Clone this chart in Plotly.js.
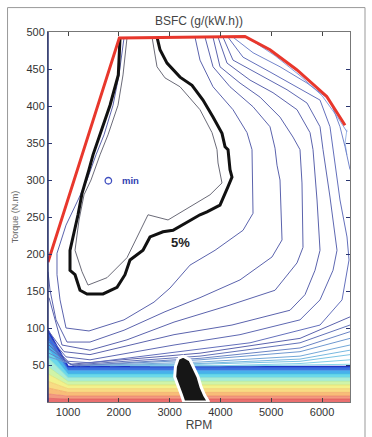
<!DOCTYPE html>
<html><head><meta charset="utf-8">
<script src="https://cdn.plot.ly/plotly-3.0.1.min.js"></script>
<style>html,body{margin:0;padding:0;background:#fff;}#chart{width:372px;height:437px;}</style>
</head><body><div id="chart"></div>
<script>
// ---- data (RPM, torque N.m) ----
const xTicks = [1000, 2000, 3000, 4000, 5000, 6000];
const yTicks = [50, 100, 150, 200, 250, 300, 350, 400, 450, 500];

const redRpm = [606, 2010, 4484, 4976, 5502, 6093, 6453];
const redTq  = [189, 492, 494, 476, 449, 413, 374];

const blackRpm = [2024,1990,1827,1630,1492,1413,1276,1197,1079,1039,1039,1138,1236,1374,1689,1965,2122,2220,2476,2614,2870,3067,3343,3598,3736,3992,4150,4228,4189,4150,4091,4031,3854,3657,3441,3205,2949,2811,2752];
const blackTq  = [492,442,401,361,334,314,282,253,219,205,178,172,151,146,146,155,172,192,205,223,230,232,243,253,257,266,291,304,314,341,345,363,385,408,428,439,458,476,493];

const innerRpm = [2161,2083,1984,1787,1630,1453,1315,1217,1138,1276,1394,1768,2161,2575,2969,3539,3795,4031,3953,3933,3835,3598,3205,2909,2752,2654];
const innerTq  = [492,442,401,361,334,300,280,246,205,176,158,168,195,253,246,269,280,296,323,341,364,395,426,438,453,493];

const c1Rpm = [2102,2004,1886,1709,1551,1374,1197,961,783,783,843,961,1413,2102,2693,3008,3402,3894,4445,4642,4622,4524,4248,3854,3598,3500];
const c1Tq  = [492,442,401,361,334,300,273,239,201,172,138,100,96,111,135,154,185,205,232,255,341,364,395,426,462,493];
const c2Rpm = [3697,3854,4189,4642,4976,5075,5114,5173,5213,5016,4386,3598,2909,2102,1433,980,764,646,606];
const c2Tq  = [493,453,426,399,372,343,320,300,219,196,165,141,122,97,81,81,111,151,176];
const c3Rpm = [3854,3992,4386,4780,5173,5429,5567,5606,5626,5508,5075,4189,3087,2161,1433,882,626];
const c3Tq  = [493,453,431,412,385,358,341,296,209,188,151,131,108,84,70,77,141];
const c4Rpm = [3953,4130,4583,5035,5508,5764,5823,5902,5961,5862,5665,5370,4228,3087,1433,921,626];
const c4Tq  = [493,458,435,418,395,364,341,273,205,178,145,124,104,91,64,68,95];
const c5Rpm = [4051,4248,4780,5311,5705,5961,6020,6157,6295,6217,5961,5567,4386,3087,1433,961,626];
const c5Tq  = [493,462,442,422,404,372,341,277,205,178,138,111,91,77,57,61,88];
const c6Rpm = [4150,4445,4976,5508,5961,6157,6217,6354,6492,6532,6394,5961,4583,3205,1433,1000,626];
const c6Tq  = [493,466,446,426,408,372,341,273,223,192,138,104,80,68,53,55,81];
const c7Rpm = [4248,4642,5173,5705,6157,6354,6453,6551];
const c7Tq  = [493,472,453,431,408,372,345,314];
const c8Rpm = [4543,5075,5567,6000,6315,6492];
const c8Tq  = [492,468,441,414,384,365];
const c9Rpm = [6490,6453,6490];
const c9Tq  = [368,350,334];

const l7Rpm = [626,1039,3598,5567,6551];  const l7Tq = [77,51,66,86,115];
const l8Rpm = [626,1079,3598,5567,6551];  const l8Tq = [72,50,62,80,104];
const l9Rpm = [626,1118,3598,5567,6551];  const l9Tq = [66,49,59,73,95];
const l10Rpm = [626,1157,3598,5567,6551]; const l10Tq = [61,49,57,68,86];
const l11Rpm = [1236,3598,5567,6551];     const l11Tq = [49,54,62,77];
const l12Rpm = [1433,3598,5567,6551];     const l12Tq = [49,52,58,70];
const l13Rpm = [1827,3598,5567,6551];     const l13Tq = [49,51,55,64];
const l14Rpm = [2220,3992,5567,6551];     const l14Tq = [49,49,52,57];
const l15Rpm = [2614,4583,6551];          const l15Tq = [49,49,51];

// low-load coloured band: boundary torque at left edge, knee and right edge
const bandRpm     = [606, 1000, 6551];
const bandLeftTq  = [97, 84, 72, 60, 48, 38, 28, 19, 11, 5, 0];
const bandKneeTq  = [48, 43, 38, 33, 28, 23, 18, 13, 8, 4, 0];
const bandRightTq = [48, 43, 38, 33, 28, 23, 18, 13, 8, 4, 0];
const bandFill = ['#3c6ee0','#48b0ec','#6ad8ea','#a8ecd8','#d0f4a8','#f2f28c','#f8dc84','#f8bc78','#f29a80','#ea7070'];
const bandLine = ['#1f34c4','#3a8ee0','#48c4e0','#86dcc8','#b4e890','#e2e070','#f0c868','#f0a460','#ea8070','#e05858'];

const blobRpm = [3170,3270,3400,3490,3560,3620,3690,3770,3280,3230,3150,3100,3115,3170];
const blobTq  = [59,62,57,45,34,20,9,0,0,10,26,34,48,59];

const minRpm = [1794], minTq = [299];

// ---- build traces ----
function ln(x, y, color, width) {
  return {x: x, y: y, mode: 'lines', line: {color: color, width: width}, hoverinfo: 'skip', showlegend: false};
}
const traces = [];
traces.push({x: bandRpm, y: [bandLeftTq[10], bandKneeTq[10], bandRightTq[10]], mode: 'lines', line: {width: 0, color: '#ea7070'}, hoverinfo: 'skip', showlegend: false});
for (let k = 9; k >= 0; k--) {
  traces.push({x: bandRpm, y: [bandLeftTq[k], bandKneeTq[k], bandRightTq[k]], mode: 'lines', fill: 'tonexty', fillcolor: bandFill[k],
    line: {color: bandLine[k], width: k === 0 ? 1.6 : 0.7}, hoverinfo: 'skip', showlegend: false});
}
const lowSets = [[l15Rpm,l15Tq,'#88d8ea'],[l14Rpm,l14Tq,'#82cfe8'],[l13Rpm,l13Tq,'#7cc4e4'],[l12Rpm,l12Tq,'#78b8e0'],[l11Rpm,l11Tq,'#74a8d8'],[l10Rpm,l10Tq,'#6f98d0'],[l9Rpm,l9Tq,'#6a84c4'],[l8Rpm,l8Tq,'#6272b8'],[l7Rpm,l7Tq,'#5b63ad']];
lowSets.forEach(s => traces.push(ln(s[0], s[1], s[2], 1)));
const cSets = [[c9Rpm,c9Tq,'#9ab8e8'],[c8Rpm,c8Tq,'#8a9ee0'],[c7Rpm,c7Tq,'#7385cc'],[c6Rpm,c6Tq,'#6470bc'],[c5Rpm,c5Tq,'#5e68b2'],[c4Rpm,c4Tq,'#5b63ad'],[c3Rpm,c3Tq,'#5b63ad'],[c2Rpm,c2Tq,'#5b63ad'],[c1Rpm,c1Tq,'#5b63ad']];
cSets.forEach(s => traces.push(ln(s[0], s[1], s[2], 1)));
traces.push(ln(innerRpm, innerTq, '#6b6b78', 1));
traces.push({x: blobRpm, y: blobTq, mode: 'lines', fill: 'toself', fillcolor: '#161616', line: {color: '#ffffff', width: 3}, hoverinfo: 'skip', showlegend: false});
traces.push(ln(blackRpm, blackTq, '#111111', 3));
traces.push(ln(redRpm, redTq, '#e8372c', 3));
traces.push({x: minRpm, y: minTq, mode: 'markers', marker: {symbol: 'circle-open', size: 6.5, color: '#4050c0', line: {width: 1.3, color: '#4050c0'}}, hoverinfo: 'skip', showlegend: false});

const font = 'Liberation Sans, Arial, sans-serif';
const layout = {
  width: 372, height: 437,
  margin: {l: 48, r: 22, t: 32, b: 35},
  paper_bgcolor: '#ffffff', plot_bgcolor: '#ffffff',
  showlegend: false,
  font: {family: font},
  title: {text: 'BSFC (g/(kW.h))', font: {family: font, size: 12, color: '#444'}, x: 0.5, xref: 'paper', xanchor: 'center', y: 1 - 21/437, yref: 'container', yanchor: 'middle'},
  xaxis: {range: [606, 6551], tickvals: xTicks, ticks: 'inside', ticklen: 4, tickcolor: '#444', mirror: 'allticks', showline: true, linecolor: '#777', linewidth: 1,
    showgrid: false, zeroline: false, tickfont: {family: font, size: 11, color: '#333'},
    title: {text: 'RPM', font: {family: font, size: 12, color: '#444'}, standoff: 2}},
  yaxis: {range: [0, 500], tickvals: yTicks, ticks: 'inside', ticklen: 4, tickcolor: '#2a3570', mirror: 'allticks', showline: true, linecolor: '#777', linewidth: 1,
    showgrid: false, zeroline: false, tickfont: {family: font, size: 11, color: '#333'},
    title: {text: 'Torque (N.m)', font: {family: font, size: 9, color: '#666'}, standoff: 6}},
  shapes: [
    {type: 'rect', xref: 'paper', yref: 'paper', x0: -0.134, x1: 1.0497, y0: -0.2, y1: 1.066, line: {color: '#999', width: 1}},
    {type: 'line', xref: 'paper', yref: 'paper', x0: 0, x1: 0, y0: 0, y1: 1, line: {color: '#2a3570', width: 1.5}}
  ],
  annotations: [
    {x: 2230, y: 299, xref: 'x', yref: 'y', text: '<b>min</b>', showarrow: false, font: {family: font, size: 9.5, color: '#3040b0'}},
    {x: 3205, y: 216, xref: 'x', yref: 'y', text: '<b>5%</b>', showarrow: false, font: {family: font, size: 13, color: '#222'}}
  ]
};
Plotly.newPlot('chart', traces, layout, {staticPlot: true, displayModeBar: false});
</script></body></html>
